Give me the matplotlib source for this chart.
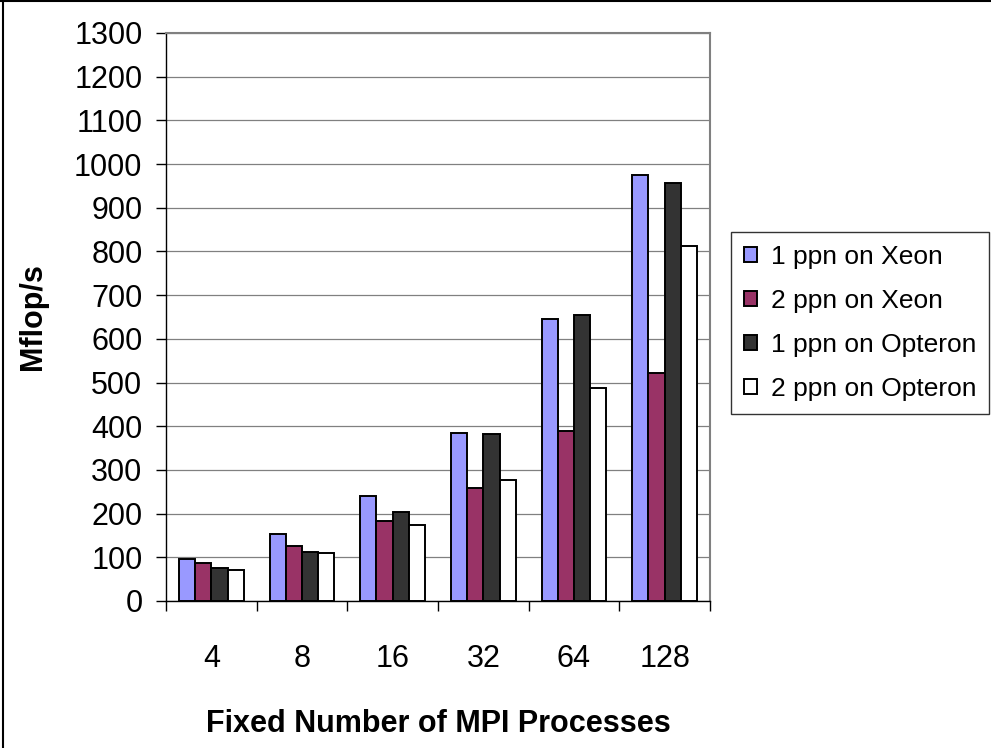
import numpy as np
import matplotlib
matplotlib.use("Agg")
import matplotlib.pyplot as plt
from matplotlib.lines import Line2D
from matplotlib.ticker import FixedLocator, NullFormatter

plt.rcParams["font.family"] = ["Liberation Sans", "DejaVu Sans"]

# ---------------------------------------------------------------- data
procs = ["4", "8", "16", "32", "64", "128"]
xeon_1ppn = [95, 154, 241, 384, 645, 975]
xeon_2ppn = [86, 127, 182, 259, 388, 521]
opteron_1ppn = [76, 113, 204, 383, 654, 956]
opteron_2ppn = [72, 109, 173, 277, 488, 813]
series_names = ["1 ppn on Xeon", "2 ppn on Xeon", "1 ppn on Opteron", "2 ppn on Opteron"]
colors = ["#9999FF", "#993366", "#333333", "#FFFFFF"]

W, H = 991, 748
fig = plt.figure(figsize=(W / 100, H / 100), dpi=100)
ax = fig.add_axes([166 / W, 1 - 601 / H, 544 / W, 568 / H])

x = np.arange(len(procs))
bw = 0.179
for i, (vals, col, name) in enumerate(zip(
        [xeon_1ppn, xeon_2ppn, opteron_1ppn, opteron_2ppn], colors, series_names)):
    ax.bar(x + (i - 1.5) * bw, vals, width=bw, color=col, edgecolor="black",
           linewidth=1.4, label=name, zorder=3)

ax.set_xlim(-0.5, len(procs) - 0.5)
ax.set_ylim(0, 1300)
ax.set_yticks(np.arange(0, 1301, 100))
ax.yaxis.grid(True, color="#808080", linewidth=0.9, zorder=0)
ax.set_axisbelow(True)

# category ticks between groups, labels centred under each group
ax.xaxis.set_major_locator(FixedLocator(np.arange(-0.5, len(procs), 1.0)))
ax.xaxis.set_major_formatter(NullFormatter())
ax.xaxis.set_minor_locator(FixedLocator(x))
ax.set_xticklabels(procs, minor=True)
ax.tick_params(axis="x", which="major", length=7, width=1, color="black")
ax.tick_params(axis="x", which="minor", length=0, pad=31, labelsize=22)
ax.tick_params(axis="y", length=7, width=1, pad=10, labelsize=22)

for s in ["top", "right"]:
    ax.spines[s].set_color("#808080")
    ax.spines[s].set_linewidth(1.5)
for s in ["left", "bottom"]:
    ax.spines[s].set_color("black")
    ax.spines[s].set_linewidth(1)

ax.set_ylabel("Mflop/s", fontsize=22, fontweight="bold")
ax.yaxis.set_label_coords(-0.216, 0.5)
ax.set_xlabel("Fixed Number of MPI Processes", fontsize=22, fontweight="bold")
ax.xaxis.set_label_coords(0.5, -0.19)

leg = ax.legend(loc="upper left", bbox_to_anchor=(731 / W, 1 - 232 / H),
                bbox_transform=fig.transFigure, borderaxespad=0, fontsize=19,
                frameon=True, fancybox=False, shadow=False,
                handlelength=0.5, handleheight=0.5, handletextpad=0.5,
                labelspacing=0.75, borderpad=0.5)
leg.get_frame().set_edgecolor("black")
leg.get_frame().set_linewidth(1.0)

# outer chart border
fig.add_artist(Line2D([0, 1], [1 - 1 / H, 1 - 1 / H], transform=fig.transFigure,
                      color="black", linewidth=1.5))
fig.add_artist(Line2D([3 / W, 3 / W], [0, 1], transform=fig.transFigure,
                      color="black", linewidth=1.5))

fig.savefig("out.png", dpi=100)
